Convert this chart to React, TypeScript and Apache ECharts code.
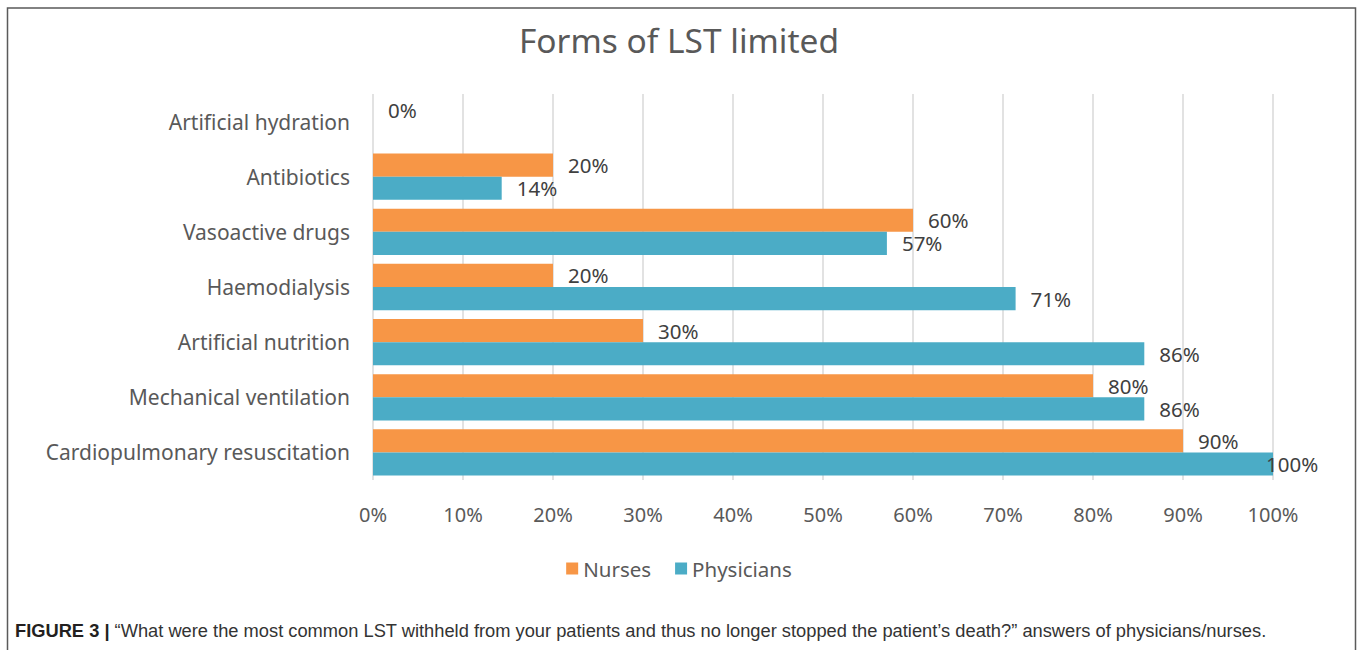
import React, { useEffect, useRef } from "react";
import * as echarts from "echarts";

const categories = [
  "Artificial hydration",
  "Antibiotics",
  "Vasoactive drugs",
  "Haemodialysis",
  "Artificial nutrition",
  "Mechanical ventilation",
  "Cardiopulmonary resuscitation",
];
const nurses = [0, 20, 60, 20, 30, 80, 90];
const physicians = [0, 14.3, 57.1, 71.4, 85.7, 85.7, 100];
const xTicks = [0, 10, 20, 30, 40, 50, 60, 70, 80, 90, 100];
const titleText = "Forms of LST limited";
const captionBold = "FIGURE 3 |";
const captionText =
  " \u201cWhat were the most common LST withheld from your patients and thus no longer stopped the patient\u2019s death?\u201d answers of physicians/nurses.";

const FONT = "'Noto Sans', 'Open Sans', sans-serif";

export default function App() {
  const ref = useRef<HTMLDivElement>(null);
  useEffect(() => {
    if (!ref.current) return;
    const chart = echarts.init(ref.current, null, { renderer: "svg" });
    const labelBase = {
      show: true,
      position: "right" as const,
      distance: 15,
      color: "#404040",
      fontSize: 20.5,
      fontFamily: FONT,
      formatter: (p: any) => Math.round(p.value) + "%",
    };
    const physData = physicians.map((v, i) => {
      if (i === 0) return { value: v, label: { show: false } };
      if (v >= 100) return { value: v, label: { offset: [-22, 0] } };
      return v;
    });
    chart.setOption({
      animation: false,
      backgroundColor: "#ffffff",
      title: {
        text: titleText,
        left: "center",
        top: 18,
        textStyle: {
          fontFamily: FONT,
          fontSize: 33.5,
          fontWeight: "normal",
          color: "#595959",
        },
      },
      legend: {
        data: ["Nurses", "Physicians"],
        left: "center",
        top: 553,
        itemWidth: 12,
        itemHeight: 12,
        itemGap: 24,
        icon: "rect",
        textStyle: { fontFamily: FONT, fontSize: 20.5, color: "#595959" },
      },
      grid: { left: 373, right: 85, top: 94, bottom: 170, containLabel: false },
      xAxis: {
        type: "value",
        min: xTicks[0],
        max: xTicks[xTicks.length - 1],
        interval: 10,
        axisLine: { show: false },
        axisTick: { show: false },
        splitLine: { lineStyle: { color: "#d9d9d9", width: 1.5 } },
        axisLabel: {
          formatter: "{value}%",
          fontFamily: FONT,
          fontSize: 20,
          color: "#595959",
          margin: 24,
        },
      },
      yAxis: {
        type: "category",
        inverse: true,
        data: categories,
        axisLine: { show: false },
        axisTick: { show: false },
        axisLabel: {
          fontFamily: FONT,
          fontSize: 21,
          color: "#595959",
          margin: 23,
        },
      },
      series: [
        {
          name: "Nurses",
          type: "bar",
          data: nurses,
          barGap: "0%",
          barCategoryGap: "16%",
          itemStyle: { color: "#F79646" },
          label: labelBase,
        },
        {
          name: "Physicians",
          type: "bar",
          data: physData,
          barGap: "0%",
          barCategoryGap: "16%",
          itemStyle: { color: "#4BACC6" },
          label: labelBase,
        },
      ],
      graphic: [
        {
          type: "rect",
          shape: { x: 7.5, y: 8, width: 1348, height: 660 },
          style: { fill: "none", stroke: "#5a5a5a", lineWidth: 1.5 },
          silent: true,
        },
        {
          type: "text",
          x: 15,
          y: 630,
          style: {
            text: "{b|" + captionBold + "}{n|" + captionText + "}",
            verticalAlign: "middle",
            rich: {
              b: {
                fontFamily: "'Liberation Sans', Arial, sans-serif",
                fontWeight: "bold",
                fontSize: 18.3,
                fill: "#231f20",
              },
              n: {
                fontFamily: "'Liberation Sans', Arial, sans-serif",
                fontSize: 18.3,
                fill: "#333333",
              },
            },
          },
        },
      ],
    });
    return () => chart.dispose();
  }, []);
  return (
    <div
      ref={ref}
      style={{ position: "absolute", left: 0, top: 0, width: 1358, height: 650 }}
    />
  );
}
